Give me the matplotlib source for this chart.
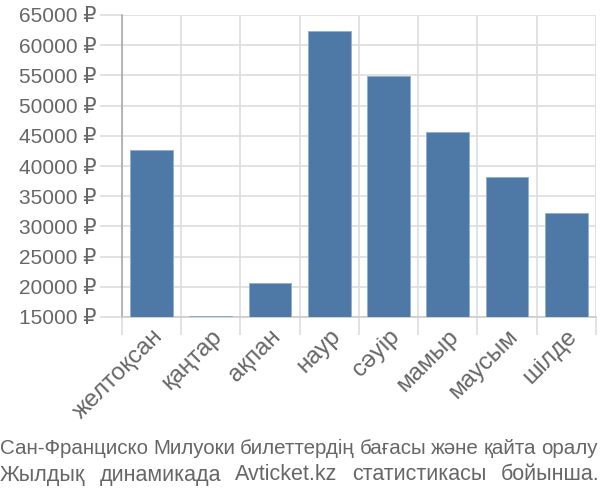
import matplotlib
matplotlib.use("Agg")
import matplotlib.pyplot as plt
import numpy as np
from matplotlib.ticker import FuncFormatter, FixedLocator

plt.rcParams['font.family'] = ['Liberation Sans', 'DejaVu Sans']

months = ["желтоқсан", "қаңтар", "ақпан", "наур", "сәуір", "мамыр", "маусым", "шілде"]
prices = [42700, 15100, 20600, 62300, 54950, 45600, 38100, 32200]
yticks = [15000, 20000, 25000, 30000, 35000, 40000, 45000, 50000, 55000, 60000, 65000]
caption = ["Сан-Франциско Милуоки билеттердің бағасы және қайта оралу",
           "Жылдық динамикада Avticket.kz статистикасы бойынша."]

text_color = "#666666"
grid_color = "#dddddd"
bar_color = "#4e79a7"

fig = plt.figure(figsize=(6, 5), dpi=100)
ax = fig.add_axes([0.203, 0.366, 0.790, 0.604])

x = np.arange(len(months))
ymin = 15000
ax.bar(x, np.array(prices) - ymin, bottom=ymin, width=0.72, color=bar_color,
       edgecolor="#8fb0d0", linewidth=0.6, zorder=3)

ax.set_xlim(-0.5, len(months) - 0.5)
ax.set_ylim(15000, 65000)
ax.set_yticks(yticks)
ax.yaxis.set_major_formatter(FuncFormatter(lambda v, p: f"{int(v)} ₽"))
ax.set_xticks(x)
ax.set_xticklabels(months, rotation=45, ha="right", rotation_mode="anchor")
ax.xaxis.set_minor_locator(FixedLocator(np.arange(-0.5, len(months), 1.0)))

ax.tick_params(axis="y", which="major", length=16, color=grid_color, width=1.2,
               labelsize=15, labelcolor=text_color, pad=2)
ax.tick_params(axis="x", which="major", length=0, labelsize=17.5, labelcolor=text_color, pad=6)
ax.tick_params(axis="x", which="minor", length=13, color=grid_color, width=1.2)

ax.grid(axis="y", color=grid_color, linewidth=1.2, zorder=0)
ax.grid(axis="x", which="minor", color=grid_color, linewidth=1.2, zorder=0)
ax.grid(axis="x", which="major", visible=False)

for s in ["top", "right"]:
    ax.spines[s].set_visible(False)
ax.spines["left"].set_color("#aaaaaa")
ax.spines["left"].set_linewidth(1.2)
ax.spines["bottom"].set_color("#cccccc")
ax.spines["bottom"].set_linewidth(1.2)

# captions: spread each line across the full width
renderer = fig.canvas.get_renderer()
W = fig.bbox.width
for line, yfig, cap_fs in zip(caption, [0.104, 0.050], [14.8, 15.5]):
    probe = fig.text(0, 0, line, fontsize=cap_fs)
    total = probe.get_window_extent(renderer).width
    probe.remove()
    words = line.split(" ")
    extra = (W - 2 - total) / max(len(words) - 1, 1)
    pos = 0
    for i, w in enumerate(words):
        prefix = line[:pos]
        if prefix:
            p = fig.text(0, 0, prefix.replace(" ", "\u00a0"), fontsize=cap_fs)
            pw = p.get_window_extent(renderer).width
            p.remove()
        else:
            pw = 0.0
        xpix = pw + i * extra
        fig.text(xpix / W, yfig, w, fontsize=cap_fs, color=text_color,
                 ha="left", va="center")
        pos += len(w) + 1

fig.savefig("out.png", dpi=100)
